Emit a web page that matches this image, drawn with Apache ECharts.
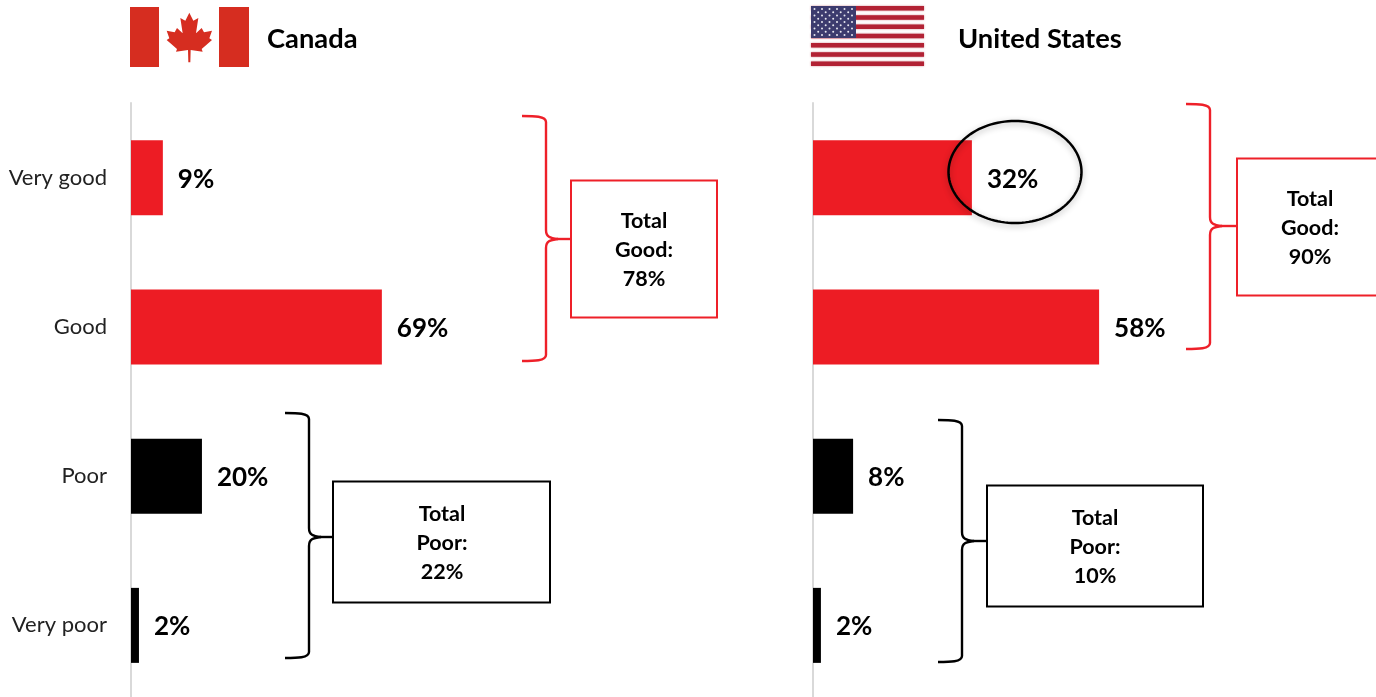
<!DOCTYPE html>
<html>
<head>
<meta charset="utf-8">
<style>html,body{margin:0;padding:0;background:#fff;overflow:hidden}#c{width:1376px;height:697px}</style>
<script src="https://cdn.jsdelivr.net/npm/echarts@6/dist/echarts.min.js"></script>
</head>
<body>
<div id="c"></div>
<script>
const categories = ['Very good', 'Good', 'Poor', 'Very poor'];
const canadaValues = [8.8, 69.3, 19.6, 2.2];
const usValues = [32.1, 57.8, 8.1, 1.6];
const barColors = ['#ED1C24', '#ED1C24', '#000000', '#000000'];
const canadaTotals = ['Total\nGood:\n78%', 'Total\nPoor:\n22%'];
const usTotals = ['Total\nGood:\n90%', 'Total\nPoor:\n10%'];
const countryNames = ['Canada', 'United States'];

const FONT = 'Lato, "Open Sans", sans-serif';
const RED = '#EE2029';

function braceEl(color, x0, xm, xt, y0, yt, y1) {
  const st = { fill: null, stroke: color, lineWidth: 2.4 };
  const bez = (a, b, c, d, e, f, g, h) => ({ type: 'bezierCurve', z: 20,
    shape: { x1: a, y1: b, cpx1: c, cpy1: d, cpx2: e, cpy2: f, x2: g, y2: h }, style: st });
  const lin = (a, b, c, d) => ({ type: 'line', z: 20, shape: { x1: a, y1: b, x2: c, y2: d }, style: st });
  return [
    bez(x0, y0, xm - 12, y0, xm, y0, xm, y0 + 6),
    lin(xm, y0 + 6, xm, yt - 9),
    bez(xm, yt - 9, xm, yt - 2, xm + 4, yt - 1, xm + 12, yt),
    lin(xm + 12, yt, xt, yt),
    bez(xm + 12, yt, xm + 4, yt + 1, xm, yt + 2, xm, yt + 9),
    lin(xm, yt + 9, xm, y1 - 6),
    bez(xm, y1 - 6, xm, y1, xm - 12, y1, x0, y1)
  ];
}
function boxEl(color, x, y, w, h) {
  return { type: 'rect', z: 20, shape: { x: x, y: y + 0.5, width: w, height: h },
    style: { fill: '#fff', stroke: color, lineWidth: 2 } };
}
function boxText(text, cx, cy) {
  return { type: 'text', z: 21, x: cx, y: cy,
    style: { text: text, fontFamily: FONT, fontWeight: 700, fontSize: 21.5, lineHeight: 29,
      fill: '#000', align: 'center', verticalAlign: 'middle' } };
}
function title(text, x, y) {
  return { type: 'text', z: 21, x: x, y: y,
    style: { text: text, fontFamily: FONT, fontWeight: 700, fontSize: 27.3, fill: '#000',
      align: 'left', verticalAlign: 'middle' } };
}
function ellipseEl(cx, cy, rx, ry) {
  const pts = [];
  for (let i = 0; i < 120; i++) {
    const a = i / 120 * Math.PI * 2;
    pts.push([cx + rx * Math.cos(a), cy + ry * Math.sin(a)]);
  }
  return { type: 'polygon', z: 22, shape: { points: pts },
    style: { fill: 'transparent', stroke: '#000', lineWidth: 2.5,
      shadowBlur: 6, shadowColor: 'rgba(0,0,0,0.3)', shadowOffsetY: 2 } };
}

// Canada flag
const leafRight = [[208,38],[220,62],[235,54],[228,100],[245,84],[252,97],[276,92],[268,115],[276,120],[245,147],[248,155],[212,150],[211,187]];
const leafLeft = leafRight.slice(1).reverse().map(p => [416 - p[0], p[1]]);
const leaf = leafRight.concat(leafLeft).map(p => [120 + p[0] / 3, p[1] / 3]);
const canadaFlag = [
  { type: 'rect', shape: { x: 130, y: 7, width: 29, height: 60 }, style: { fill: '#D62D20' } },
  { type: 'rect', shape: { x: 219, y: 7, width: 30, height: 60 }, style: { fill: '#D62D20' } },
  { type: 'polygon', shape: { points: leaf }, style: { fill: '#D62D20' } }
];

// US flag
const usFlag = [];
const stripeH = 60 / 13;
for (let i = 0; i < 13; i += 2) {
  usFlag.push({ type: 'rect', shape: { x: 811, y: 6 + i * stripeH, width: 113, height: stripeH },
    style: { fill: '#B22234', shadowBlur: 2, shadowColor: 'rgba(178,34,52,0.6)' } });
}
usFlag.push({ type: 'rect', shape: { x: 811, y: 6, width: 45, height: 32 }, style: { fill: '#3C3B6E' } });
for (let r = 0; r < 9; r++) {
  const n = r % 2 ? 5 : 6;
  for (let c = 0; c < n; c++) {
    usFlag.push({ type: 'circle',
      shape: { cx: 814.5 + (r % 2 ? 3.7 : 0) + c * 7.5, cy: 9 + r * 3.25, r: 1 },
      style: { fill: '#E8E8F0' } });
  }
}

const graphicEls = [].concat(
  canadaFlag, usFlag,
  [title(countryNames[0], 267, 39.5), title(countryNames[1], 958, 39.5)],
  braceEl(RED, 522, 546, 571, 116, 239, 361),
  braceEl('#000', 285, 309, 333, 413, 537, 658),
  braceEl(RED, 1186, 1210, 1237, 104, 226, 349),
  braceEl('#000', 938, 962, 987, 420, 541, 662),
  [
    boxEl(RED, 571, 180, 146, 137),
    boxText(canadaTotals[0], 644, 250.5),
    boxEl('#000', 333, 481, 217, 121),
    boxText(canadaTotals[1], 442, 543.5),
    boxEl(RED, 1237, 158, 150, 137),
    boxText(usTotals[0], 1310, 228.5),
    boxEl('#000', 987, 485, 216, 121),
    boxText(usTotals[1], 1095, 547.5),
    ellipseEl(1015, 172, 66.5, 51)
  ]
);

function series(values, gridIndex) {
  return {
    type: 'bar', xAxisIndex: gridIndex, yAxisIndex: gridIndex, barWidth: 75,
    data: values.map((v, i) => ({ value: v, itemStyle: { color: barColors[i] } })),
    label: { show: true, position: 'right', distance: 15, offset: [0, 1.5],
      formatter: p => Math.round(p.value) + '%',
      fontFamily: FONT, fontWeight: 700, fontSize: 26, color: '#000' }
  };
}
function yAxis(gridIndex, showLabels) {
  return { type: 'category', gridIndex: gridIndex, data: categories, inverse: true, offset: 2,
    axisLine: { show: true, lineStyle: { color: '#D9D9D9', width: 2 } },
    axisTick: { show: false },
    axisLabel: { show: showLabels, fontFamily: FONT, fontSize: 22, color: '#222', margin: 22 } };
}
function xAxis(gridIndex, max) {
  return { type: 'value', gridIndex: gridIndex, min: 0, max: max, show: false, splitLine: { show: false } };
}

const chart = echarts.init(document.getElementById('c'), null, { renderer: 'canvas' });
chart.setOption({
  animation: false,
  backgroundColor: '#fff',
  grid: [
    { left: 131, top: 103, width: 362, height: 597, outerBoundsMode: 'none', containLabel: false },
    { left: 813, top: 103, width: 495, height: 597, outerBoundsMode: 'none', containLabel: false }
  ],
  xAxis: [xAxis(0, 100), xAxis(1, 100)],
  yAxis: [yAxis(0, true), yAxis(1, false)],
  series: [series(canadaValues, 0), series(usValues, 1)],
  graphic: { elements: graphicEls }
});
</script>
</body>
</html>
